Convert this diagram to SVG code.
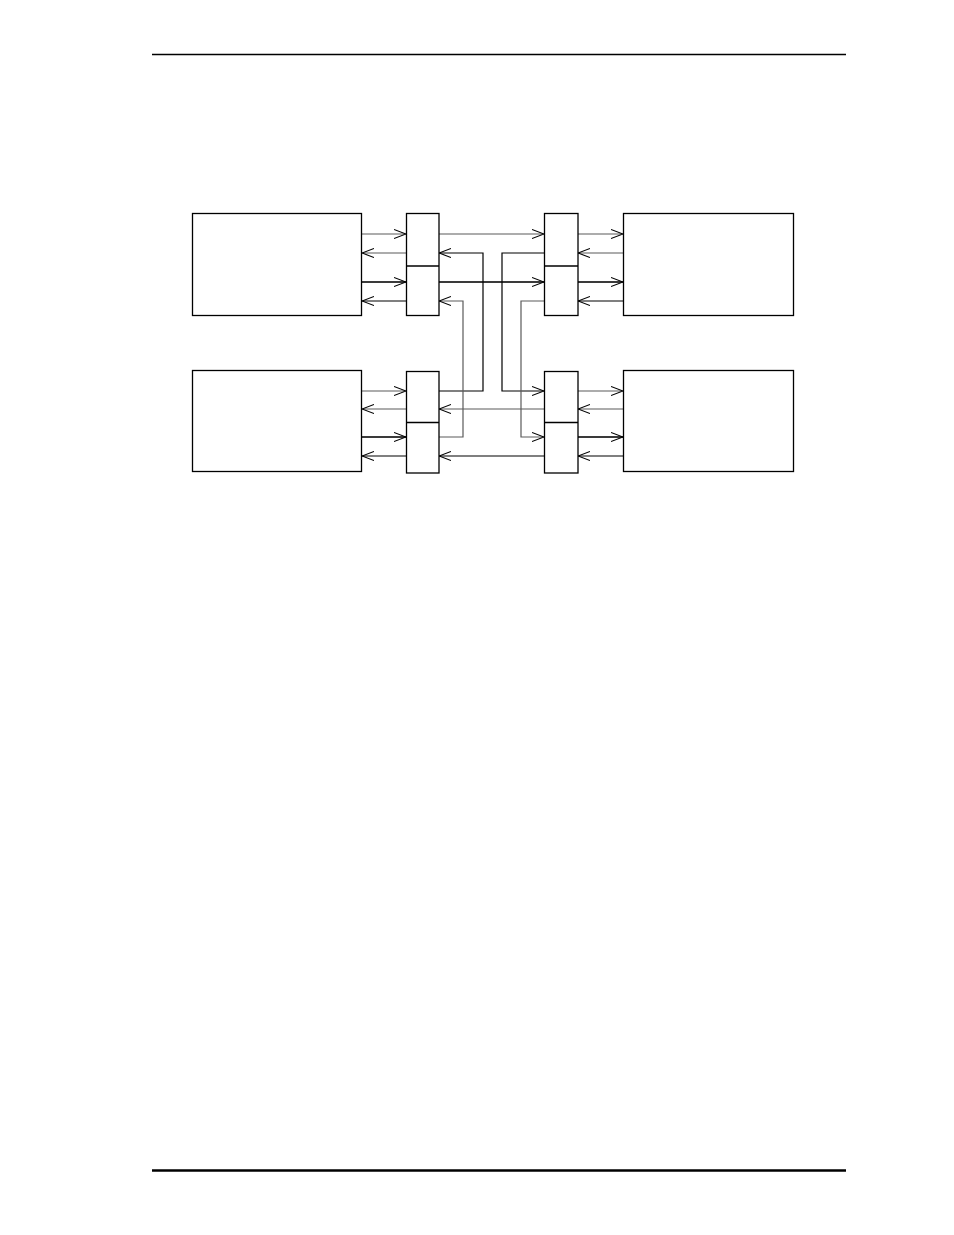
<svg xmlns="http://www.w3.org/2000/svg" width="954" height="1235" viewBox="0 0 954 1235">
<defs>
<marker id="ah" viewBox="0 0 12 10" refX="12" refY="5" markerWidth="12" markerHeight="10" markerUnits="userSpaceOnUse" orient="auto">
<path d="M0,0.5 L12,5 L0,9.5" fill="none" stroke="#000" stroke-width="1.1"/>
</marker>
</defs>
<style>
.box{fill:#fff;stroke:#000;stroke-width:1.3}
.g{fill:none;stroke:#5a5a5a;stroke-width:1.2}
.t{fill:none;stroke:#3a3a3a;stroke-width:2}
.k{fill:none;stroke:#000;stroke-width:1.2}
.a{marker-end:url(#ah)}
</style>
<rect width="954" height="1235" fill="#fff"/>
<line x1="152" y1="54.5" x2="846" y2="54.5" stroke="#000" stroke-width="1.3"/>
<line x1="152" y1="1170.5" x2="846" y2="1170.5" stroke="#000" stroke-width="2.4"/>

<g id="connectors">
<path class="g a" d="M362,234 H406"/>
<path class="g a" d="M406,253 H362"/>
<path class="t a" d="M362,282 H406"/>
<path class="k a" d="M406,301 H362"/>
<path class="g a" d="M439,234 H544"/>
<path class="t a" d="M439,282 H544"/>
<path class="g a" d="M578,234 H623"/>
<path class="g a" d="M623,253 H578"/>
<path class="t a" d="M578,282 H623"/>
<path class="k a" d="M623,301 H578"/>
<path class="g a" d="M362,391 H406"/>
<path class="g a" d="M406,409 H362"/>
<path class="t a" d="M362,437 H406"/>
<path class="k a" d="M406,456 H362"/>
<path class="g a" d="M544,409 H439"/>
<path class="k a" d="M544,456 H439"/>
<path class="g a" d="M578,391 H623"/>
<path class="g a" d="M623,409 H578"/>
<path class="t a" d="M578,437 H623"/>
<path class="k a" d="M623,456 H578"/>
<path class="k a" d="M439,391 H483 V253 H439"/>
<path class="g a" d="M439,437 H463 V301 H439"/>
<path class="k a" d="M544,253 H502 V391 H544"/>
<path class="g a" d="M544,301 H521 V437 H544"/>
</g>

<g id="box1"><rect class="box" x="192.5" y="213.5" width="169" height="102"/></g>
<g id="box2"><rect class="box" x="623.5" y="213.5" width="170" height="102"/></g>
<g id="box3"><rect class="box" x="192.5" y="370.5" width="169" height="101"/></g>
<g id="box4"><rect class="box" x="623.5" y="370.5" width="170" height="101"/></g>

<g id="switch1"><rect class="box" x="406.5" y="213.5" width="32.5" height="102"/><line x1="406.5" y1="266" x2="439" y2="266" stroke="#000" stroke-width="1.3"/></g>
<g id="switch2"><rect class="box" x="544.5" y="213.5" width="33.5" height="102"/><line x1="544.5" y1="266" x2="578" y2="266" stroke="#000" stroke-width="1.3"/></g>
<g id="switch3"><rect class="box" x="406.5" y="371.5" width="32.5" height="101.5"/><line x1="406.5" y1="422.5" x2="439" y2="422.5" stroke="#000" stroke-width="1.3"/></g>
<g id="switch4"><rect class="box" x="544.5" y="371.5" width="33.5" height="101.5"/><line x1="544.5" y1="422.5" x2="578" y2="422.5" stroke="#000" stroke-width="1.3"/></g>
</svg>
